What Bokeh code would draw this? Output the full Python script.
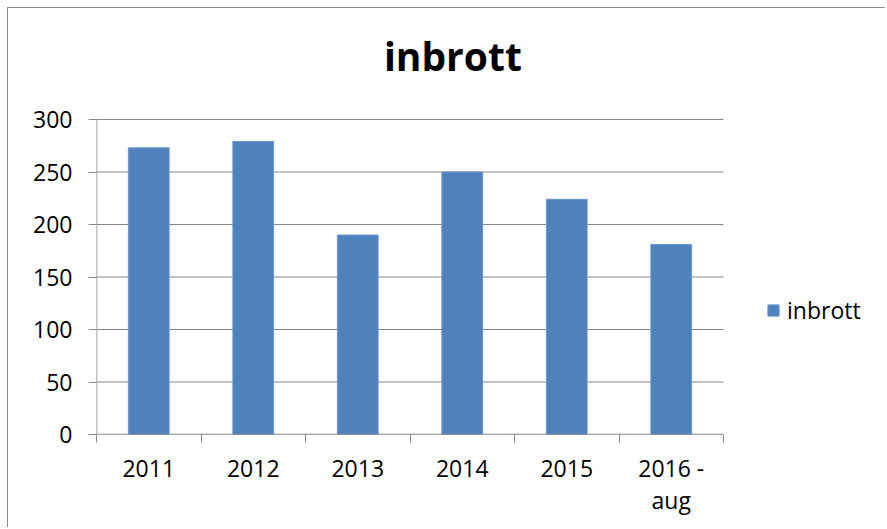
import numpy as np
from bokeh.plotting import figure
from bokeh.models import FixedTicker, Legend, LegendItem, ColumnDataSource, Range1d, Label
from bokeh.embed import file_html
from bokeh.resources import INLINE

years = ["2011", "2012", "2013", "2014", "2015", "2016 -\naug"]
inbrott = [273, 279, 190, 250, 224, 181]
y_ticks = [0, 50, 100, 150, 200, 250, 300]
series_name = "inbrott"
title_text = "inbrott"

# layout (pixels)
W, H = 878, 520
left_b, bottom_b = 88, 94
px_per_cat = 104.5
px_per_unit = 1.05
frame_w = W - left_b
frame_h = H - bottom_b
n = len(years)
ymax = max(y_ticks)

p = figure(width=W, height=H, output_backend="svg", toolbar_location=None,
           x_range=Range1d(0, frame_w / px_per_cat), y_range=Range1d(0, frame_h / px_per_unit),
           min_border_left=left_b, min_border_right=0, min_border_top=0, min_border_bottom=bottom_b)
p.styles = {"margin-left": "7px", "margin-top": "7px",
            "border-left": "1px solid #8a8a8a", "border-top": "1px solid #8a8a8a"}
p.outline_line_color = None
p.background_fill_color = "white"
p.border_fill_color = "white"

grid_color = "#868686"
font = "Open Sans"
fs = "23px"

# gridlines drawn within the plot area only
p.segment(x0=[0] * len(y_ticks), x1=[n] * len(y_ticks), y0=y_ticks, y1=y_ticks,
          line_color=grid_color, line_width=1)

xs = np.arange(n) + 0.5
src = ColumnDataSource(dict(x=xs, top=inbrott))
r = p.vbar(x="x", top="top", width=0.39, bottom=0, source=src,
           fill_color="#4F81BD", line_color="#6E96C8", line_width=1)

# axis lines
p.segment(x0=[0, 0], x1=[0, n], y0=[0, 0], y1=[ymax, 0], line_color=grid_color, line_width=1.5)

# y axis
yax = p.yaxis[0]
yax.ticker = FixedTicker(ticks=y_ticks, minor_ticks=[])
yax.axis_line_color = None
yax.major_tick_line_color = grid_color
yax.major_tick_out = 8
yax.major_tick_in = 0
yax.minor_tick_line_color = None
yax.major_label_text_font = font
yax.major_label_text_font_size = fs
yax.major_label_text_color = "black"
yax.major_label_standoff = 16

# x axis
xax = p.xaxis[0]
xax.ticker = FixedTicker(ticks=list(xs), minor_ticks=list(range(n + 1)))
xax.major_label_overrides = {float(x): lab for x, lab in zip(xs, years)}
xax.axis_line_color = None
xax.major_tick_line_color = None
xax.minor_tick_line_color = grid_color
xax.minor_tick_out = 8
xax.minor_tick_in = 0
xax.major_label_text_font = font
xax.major_label_text_font_size = fs
xax.major_label_text_color = "black"
xax.major_label_text_line_height = 1.0
xax.major_label_standoff = 9

p.xgrid.grid_line_color = None
p.ygrid.grid_line_color = None

title = Label(x=3.41, y=361, text=title_text, text_font=font, text_font_size="39px",
              text_font_style="bold", text_align="center", text_baseline="alphabetic",
              text_color="black")
p.add_layout(title)

legend = Legend(items=[LegendItem(label=series_name, renderers=[r])],
                location=(670, 108), orientation="vertical",
                label_text_font=font, label_text_font_size=fs, label_text_color="black",
                glyph_width=14, glyph_height=14, padding=0, margin=0,
                border_line_color=None, background_fill_alpha=0, label_standoff=7)
p.add_layout(legend, "center")

open("out.html", "w").write(file_html(p, INLINE))
